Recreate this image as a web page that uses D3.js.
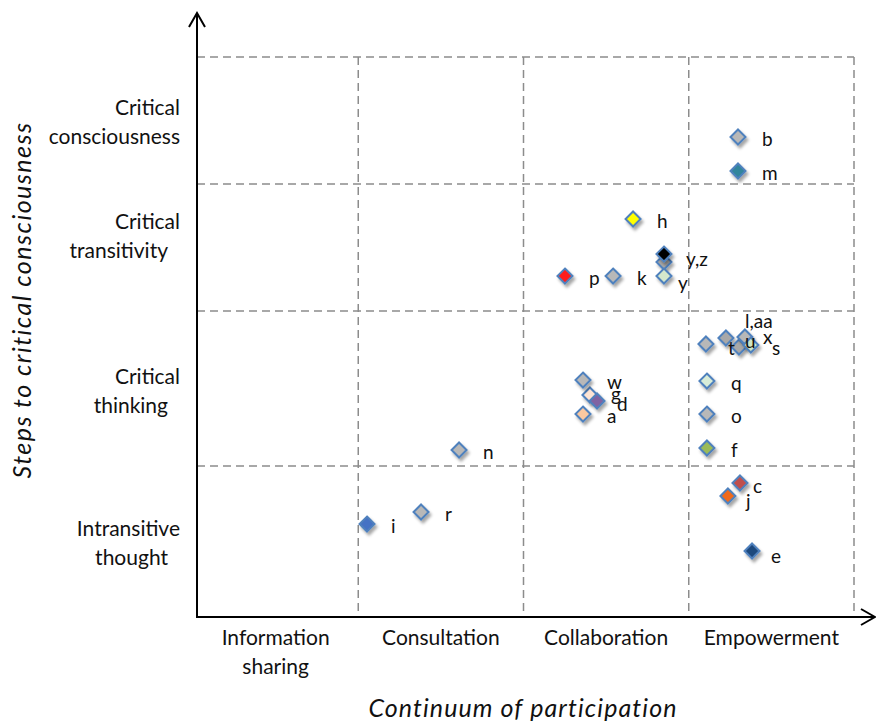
<!DOCTYPE html>
<html>
<head>
<meta charset="utf-8">
<script src="https://cdn.jsdelivr.net/npm/d3@7"></script>
<style>
  body { margin: 0; background: #fff; }
  svg { font-family: Lato, "Liberation Sans", sans-serif; }
</style>
</head>
<body>
<div id="chart"></div>
<script>
// columns along the participation axis
let participation = [["Information", "sharing"], ["Consultation"], ["Collaboration"], ["Empowerment"]]
// rows on the consciousness axis, bottom to top
let consciousness = [["Intransitive", "thought"], ["Critical", "thinking"], ["Critical", "transitivity"], ["Critical", "consciousness"]]
let rowTicks = [0.58, 1.78, 3.0, 3.9]
let rowBounds = [1.19, 2.41, 3.41, 4.41]
let colBounds = [1, 2, 3, 4]

// the cases (x = participation, y = consciousness)
let labels = ["i", "r", "n", "a", "g", "d", "w", "p", "k", "h", "", "y,z", "y", "b", "m",
              "t", "u", "x", "l,aa", "s", "q", "o", "f", "c", "j", "e"]
let xs = [1.053, 1.380, 1.610, 2.360, 2.402, 2.445, 2.360, 2.251, 2.542, 2.663, 2.850, 2.850, 2.850, 3.298, 3.298,
          3.104, 3.225, 3.304, 3.340, 3.376, 3.110, 3.110, 3.110, 3.310, 3.237, 3.383]
let ys = [0.732, 0.827, 1.315, 1.598, 1.748, 1.701, 1.866, 2.685, 2.685, 3.134, 2.795, 2.858, 2.685, 3.780, 3.512,
          2.150, 2.197, 2.126, 2.205, 2.142, 1.858, 1.598, 1.331, 1.055, 0.953, 0.520]
let fills = ["#4472c4", "#b8b8b8", "#b8b8b8", "#fac8a0", "#fde4d4", "#8064a2", "#b8b8b8", "#ff1a1a", "#b8b8b8", "#ffff00",
             "#a8a8a8", "#000000", "#d4e8cc", "#b8b8b8", "#31859c",
             "#b8b8b8", "#a8a8a8", "#a8a8a8", "#b8b8b8", "#cfe6c4", "#d8ecd8", "#b8b8b8", "#9bbb59", "#c0504d", "#f06a1e", "#1f497d"]

// label nudges from the marker centre
let nudge = {
  "y,z": [22, 5], "y": [14, 7], "t": [22, 4], "u": [19, 3], "x": [24, -10], "l,aa": [0, -16],
  "s": [21, 3], "c": [13, 3], "j": [18, 5], "g": [21, -1], "d": [20, 3], "e": [19, 5]
}

let width = 876, height = 722

let x = d3.scaleLinear().domain([0, 4]).range([193, 854])
let y = d3.scaleLinear().domain([0, 4.41]).range([617, 57])

let svg = d3.select('#chart').append('svg')
  .attr('width', width).attr('height', height)

let defs = svg.append('defs')
let f = defs.append('filter').attr('id', 'shadow')
  .attr('x', '-50%').attr('y', '-50%').attr('width', '200%').attr('height', '200%')
f.append('feDropShadow').attr('dx', 2).attr('dy', 3).attr('stdDeviation', 1.6)
  .attr('flood-color', '#000').attr('flood-opacity', 0.35)

let grid = svg.append('g')
  .attr('stroke', '#8c8c8c').attr('stroke-width', 1.5)
  .attr('stroke-dasharray', '8,5').attr('fill', 'none')

grid.selectAll('line.h').data(rowBounds).enter().append('line')
  .attr('class', 'h')
  .attr('x1', x(0) + 4).attr('x2', x(4))
  .attr('y1', d => y(d)).attr('y2', d => y(d))

grid.selectAll('line.v').data(colBounds).enter().append('line')
  .attr('class', 'v')
  .attr('x1', d => x(d)).attr('x2', d => x(d))
  .attr('y1', y(rowBounds[rowBounds.length - 1])).attr('y2', y(0))

// axes with open arrow heads
let axis = svg.append('g').attr('stroke', '#000').attr('stroke-width', 2).attr('fill', 'none')
let ax0 = x(0) + 4
axis.append('line').attr('x1', ax0).attr('x2', ax0).attr('y1', y(0) + 1).attr('y2', 13)
axis.append('path').attr('d', `M${ax0 - 8},27L${ax0},13L${ax0 + 8},27`)
axis.append('line').attr('x1', ax0 - 1).attr('x2', 874).attr('y1', y(0)).attr('y2', y(0))
axis.append('path').attr('d', `M861,${y(0) - 8}L875,${y(0)}L861,${y(0) + 8}`)

// category labels
svg.append('g').selectAll('text').data(participation).enter().append('text')
  .attr('x', (d, i) => x(i + 0.5))
  .attr('y', 645)
  .attr('text-anchor', 'middle')
  .attr('font-size', 21)
  .attr('fill', '#111')
  .selectAll('tspan').data(d => d).enter().append('tspan')
  .attr('x', function() { return d3.select(this.parentNode).attr('x') })
  .attr('dy', (d, i) => i ? 29 : 0)
  .text(d => d)

let rowText = svg.append('g').selectAll('text').data(consciousness).enter().append('text')
  .attr('y', (d, i) => y(rowTicks[i]) - 7)
  .attr('text-anchor', 'end')
  .attr('font-size', 21)
  .attr('fill', '#111')
rowText.selectAll('tspan').data(d => d).enter().append('tspan')
  .attr('x', 180)
  .attr('dy', (d, i) => i ? 29 : 0)
  .text(d => d)
// second lines sit a little in from the right unless they are long
rowText.selectAll('tspan').filter((d, i) => i === 1)
  .attr('x', function() { return this.getComputedTextLength() > 100 ? 180 : 168 })

// axis titles
svg.append('text')
  .attr('x', 523).attr('y', 717)
  .attr('text-anchor', 'middle')
  .attr('font-size', 25).attr('font-style', 'italic').attr('fill', '#111')
  .attr('letter-spacing', 1.1)
  .text('Continuum of participation')

svg.append('text')
  .attr('transform', 'translate(31,300) rotate(-90)')
  .attr('text-anchor', 'middle')
  .attr('font-size', 25).attr('font-style', 'italic').attr('fill', '#111')
  .attr('letter-spacing', 1.5)
  .text('Steps to critical consciousness')

// markers
let pts = labels.map((l, i) => ({label: l, x: xs[i], y: ys[i], fill: fills[i]}))
let r = 7.5

svg.append('g').selectAll('path').data(pts).enter().append('path')
  .attr('d', d => `M${x(d.x)},${y(d.y) - r}L${x(d.x) + r},${y(d.y)}L${x(d.x)},${y(d.y) + r}L${x(d.x) - r},${y(d.y)}Z`)
  .attr('fill', d => d.fill)
  .attr('stroke', '#4f81bd')
  .attr('stroke-width', 2)
  .attr('filter', 'url(#shadow)')

svg.append('g').selectAll('text').data(pts.filter(d => d.label)).enter().append('text')
  .attr('x', d => x(d.x) + (nudge[d.label] ? nudge[d.label][0] : 24))
  .attr('y', d => y(d.y) + (nudge[d.label] ? nudge[d.label][1] : 2))
  .attr('dy', '0.35em')
  .attr('font-size', 19)
  .attr('fill', '#111')
  .text(d => d.label)
</script>
</body>
</html>
